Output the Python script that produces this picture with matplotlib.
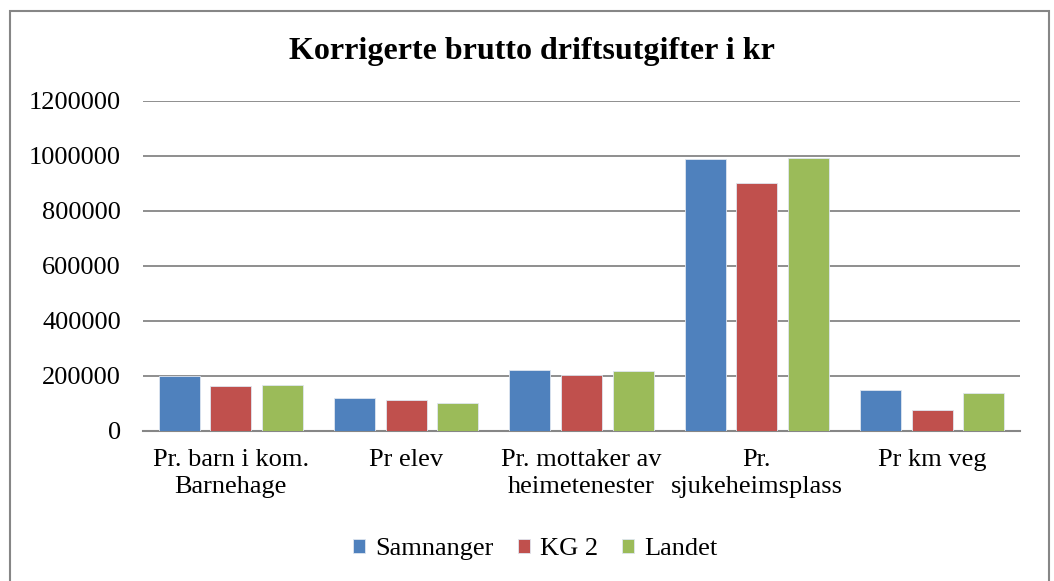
import numpy as np
import matplotlib.pyplot as plt
from matplotlib.patches import Rectangle
from matplotlib.ticker import FuncFormatter

categories = ["Pr. barn i kom.\nBarnehage", "Pr elev", "Pr. mottaker av\nheimetenester",
              "Pr.\nsjukeheimsplass", "Pr km veg"]
samnanger = [200000, 121000, 223000, 990000, 149000]
kg2 = [162000, 114000, 205000, 903000, 76000]
landet = [167000, 100000, 218000, 991000, 139000]

series = [("Samnanger", samnanger, "#4F81BD"),
          ("KG 2", kg2, "#C0504D"),
          ("Landet", landet, "#9BBB59")]

plt.rcParams['font.family'] = ['Liberation Serif', 'DejaVu Serif']

fig = plt.figure(figsize=(10.54, 5.81), dpi=100)
ax = fig.add_axes([0.1357, 0.2582, 0.832, 0.568])

x = np.arange(len(categories))
width = 0.234
step = 0.294
for i, (name, vals, col) in enumerate(series):
    ax.bar(x + (i - 1) * step, vals, width, color=col, label=name,
           edgecolor="#dfe6f0", linewidth=0.6, zorder=3)

ax.set_xlim(-0.5, len(categories) - 0.5)
ax.set_ylim(0, 1200000)
ax.set_yticks(np.arange(0, 1200001, 200000))
ax.yaxis.set_major_formatter(FuncFormatter(lambda v, p: f"{int(v)}"))
ax.yaxis.grid(True, color="#868686", linewidth=1.3, zorder=0)
ax.tick_params(axis="y", length=0, pad=16, labelsize=19)
ax.set_xticks(x)
ax.set_xticklabels(categories, fontsize=19, linespacing=1.3)
ax.tick_params(axis="x", length=0, pad=13)
for s in ["left", "right", "top"]:
    ax.spines[s].set_visible(False)
ax.spines["bottom"].set_color("#868686")
ax.spines["bottom"].set_linewidth(1.5)

fig.text(0.505, 0.912, "Korrigerte brutto driftsutgifter i kr", ha="center", va="center",
         fontsize=23, fontweight="bold")

fig.legend(loc="center", bbox_to_anchor=(0.508, 0.055), ncol=3, frameon=False,
           fontsize=19, handlelength=0.45, handleheight=0.45, handletextpad=0.4,
           columnspacing=0.9)

fig.patches.append(Rectangle((10 / 1054, -0.01), 1039 / 1054, 1 - 11 / 581 + 0.01,
                             transform=fig.transFigure, fill=False,
                             edgecolor="#868686", linewidth=1.5))

fig.savefig("out.png", dpi=100)
